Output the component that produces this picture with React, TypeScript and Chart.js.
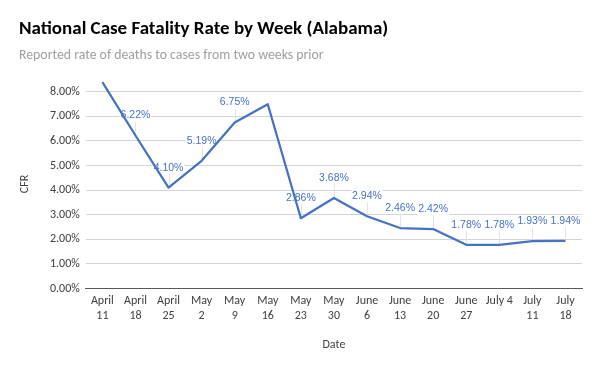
import React, { useEffect, useRef } from "react";
import { Chart, registerables } from "chart.js";

Chart.register(...registerables);

const categories: (string | string[])[] = [
  ["April", "11"], ["April", "18"], ["April", "25"], ["May", "2"], ["May", "9"],
  ["May", "16"], ["May", "23"], ["May", "30"], ["June", "6"], ["June", "13"],
  ["June", "20"], ["June", "27"], "July 4", ["July", "11"], ["July", "18"],
];
const cfrValues = [8.39, 6.22, 4.10, 5.19, 6.75, 7.49, 2.86, 3.68, 2.94, 2.46, 2.42, 1.78, 1.78, 1.93, 1.94];
const showLabel = [false, true, true, true, true, false, true, true, true, true, true, true, true, true, true];

const titleText = "National Case Fatality Rate by Week (Alabama)";
const subtitleText = "Reported rate of deaths to cases from two weeks prior";
const yAxisTitle = "CFR";
const xAxisTitle = "Date";

const FONT = "Carlito, Lato, 'Liberation Sans', sans-serif";
const LABEL_FONT = "'Liberation Sans', Arial, sans-serif";
const BLUE = "#4472C4";

const dataLabelPlugin = {
  id: "dataLabelPlugin",
  beforeDatasetsDraw(chart: any) {
    const meta = chart.getDatasetMeta(0);
    const ctx = chart.ctx;
    ctx.save();
    ctx.font = `10.5px ${LABEL_FONT}`;
    ctx.textAlign = "center";
    ctx.textBaseline = "middle";
    meta.data.forEach((pt: any, i: number) => {
      if (!showLabel[i]) return;
      const text = cfrValues[i].toFixed(2) + "%";
      const w = ctx.measureText(text).width;
      const cy = pt.y - 20;
      ctx.strokeStyle = "#e3e3e3";
      ctx.lineWidth = 1;
      ctx.beginPath();
      ctx.moveTo(Math.round(pt.x) + 0.5, cy + 6);
      ctx.lineTo(Math.round(pt.x) + 0.5, pt.y - 1);
      ctx.stroke();
      ctx.fillStyle = "#ffffff";
      ctx.fillRect(pt.x - w / 2 - 1, cy - 6, w + 2, 12);
      ctx.fillStyle = BLUE;
      ctx.fillText(text, pt.x, cy);
    });
    ctx.restore();
  },
};

export default function App() {
  const ref = useRef<HTMLCanvasElement | null>(null);
  useEffect(() => {
    if (!ref.current) return;
    const chart = new Chart(ref.current, {
      type: "line",
      data: {
        labels: categories as any,
        datasets: [
          {
            data: cfrValues,
            borderColor: BLUE,
            borderWidth: 2.25,
            pointRadius: 0,
            tension: 0,
            borderJoinStyle: "round",
            fill: false,
          },
        ],
      },
      options: {
        responsive: false,
        animation: false,
        layout: { padding: { left: 19, right: 18, top: 0, bottom: 0 } },
        plugins: {
          legend: { display: false },
          tooltip: { enabled: false },
          title: {
            display: true,
            text: titleText,
            align: "start",
            color: "#000000",
            font: { family: FONT, size: 19, weight: "bold" },
            padding: { top: 18, bottom: 6 },
          },
          subtitle: {
            display: true,
            text: subtitleText,
            align: "start",
            color: "#a0a0a0",
            font: { family: FONT, size: 13.8 },
            padding: { top: 0, bottom: 16 },
          },
        },
        scales: {
          x: {
            type: "category",
            offset: true,
            grid: { display: false, drawTicks: false },
            border: { display: true, color: "#595959", width: 1 },
            ticks: {
              color: "#404040",
              font: { family: FONT, size: 12, lineHeight: 1.25 },
              maxRotation: 0,
              autoSkip: false,
              padding: 5,
            },
            title: {
              display: true,
              text: xAxisTitle,
              color: "#404040",
              font: { family: FONT, size: 12 },
              padding: { top: 9, bottom: 19 },
            },
          },
          y: {
            min: 0,
            max: 8.5,
            ticks: {
              stepSize: 0.5,
              color: "#404040",
              font: { family: FONT, size: 12 },
              padding: 6,
              callback: (v: any) => (Number.isInteger(v) ? Number(v).toFixed(2) + "%" : ""),
            },
            grid: {
              drawTicks: false,
              color: (c: any) => {
                const v = c.tick ? c.tick.value : 0;
                if (v === 0) return "#595959";
                if (v >= 8.5) return "rgba(0,0,0,0)";
                return Number.isInteger(v) ? "#d4d4d4" : "#ebebeb";
              },
            },
            border: { display: false },
            title: {
              display: true,
              text: yAxisTitle,
              color: "#404040",
              font: { family: FONT, size: 12, lineHeight: 1 },
              padding: { top: 0, bottom: 13 },
            },
          },
        },
      },
      plugins: [dataLabelPlugin],
    });
    return () => chart.destroy();
  }, []);
  return (
    <div style={{ position: "absolute", left: 0, top: 0, width: 600, height: 371, background: "#fff" }}>
      <canvas ref={ref} width={600} height={371} />
    </div>
  );
}
